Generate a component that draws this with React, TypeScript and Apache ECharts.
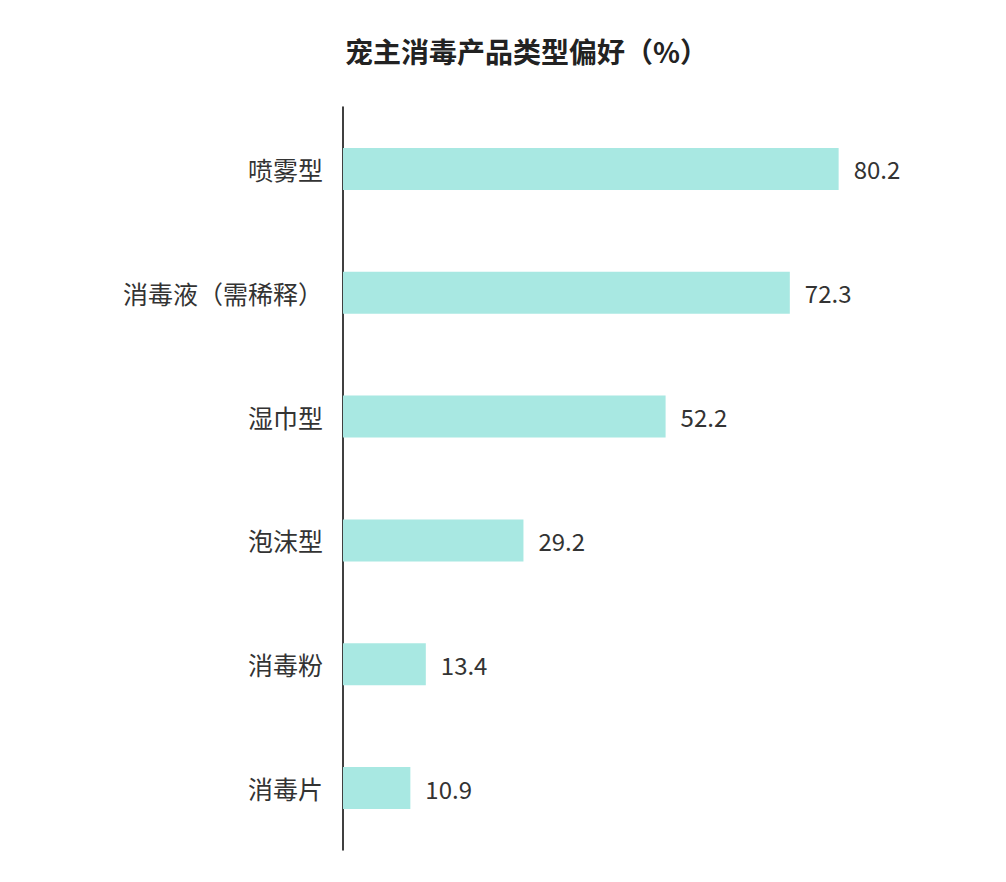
import * as echarts from 'echarts'
import { useEffect, useRef } from 'react'

const categories = ['喷雾型', '消毒液（需稀释）', '湿巾型', '泡沫型', '消毒粉', '消毒片']
const values = [80.2, 72.3, 52.2, 29.2, 13.4, 10.9]

const FONT = '"Noto Sans CJK SC", "Noto Sans", sans-serif'

export default function App() {
  const ref = useRef<HTMLDivElement | null>(null)

  useEffect(() => {
    if (!ref.current) {
      return
    }
    document.body.style.margin = '0'
    const chart = echarts.init(ref.current, undefined, { renderer: 'svg' })

    chart.setOption({
      animation: false,
      backgroundColor: '#ffffff',
      textStyle: { fontFamily: FONT },
      title: {
        text: '宠主消毒产品类型偏好（%）',
        left: 340,
        top: 32,
        textStyle: {
          color: '#222222',
          fontFamily: FONT,
          fontSize: 28,
          fontWeight: 'bold',
        },
      },
      grid: {
        left: 343,
        right: 45,
        top: 107,
        bottom: 32,
        containLabel: false,
      },
      xAxis: {
        type: 'value',
        min: 0,
        max: 100,
        show: false,
      },
      yAxis: {
        type: 'category',
        inverse: true,
        data: categories,
        axisLine: { show: true, lineStyle: { color: '#000000', width: 1.5 } },
        axisTick: { show: false },
        splitLine: { show: false },
        axisLabel: {
          color: '#333333',
          fontFamily: FONT,
          fontSize: 25,
          margin: 20,
        },
      },
      series: [
        {
          type: 'bar',
          data: values,
          barWidth: 42,
          itemStyle: { color: '#a8e8e2' },
          label: {
            show: true,
            position: 'right',
            distance: 15,
            color: '#333333',
            fontFamily: FONT,
            fontSize: 24,
            formatter: (p: { value: number }) => p.value.toFixed(1),
          },
        },
      ],
    })

    return () => {
      chart.dispose()
    }
  }, [])

  return <div ref={ref} style={{ width: 1006, height: 882 }} />
}
